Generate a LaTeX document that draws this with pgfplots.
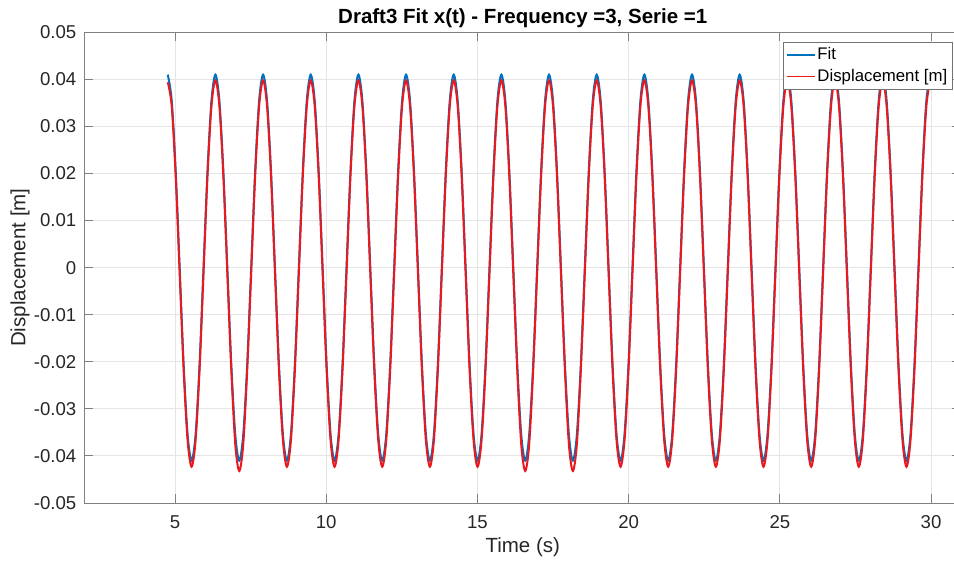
\documentclass[border=0pt]{standalone}
\usepackage{fontspec}
\setmainfont{Liberation Sans}
\usepackage{pgfplots}
\usepackage{pgfplotstable}
\pgfplotsset{compat=1.18}
\definecolor{mblue}{rgb}{0,0.447,0.741}
\definecolor{mred}{RGB}{235,25,30}
\definecolor{axgray}{RGB}{128,128,128}
\definecolor{txt}{RGB}{38,38,38}
\pgfplotstableread{
t fit disp
4.760 0.0410 0.0394
4.891 0.0355 0.0343
5.023 0.0205 0.0193
5.154 0.0000 -0.0013
5.285 -0.0205 -0.0218
5.417 -0.0355 -0.0368
5.548 -0.0410 -0.0423
5.679 -0.0355 -0.0368
5.811 -0.0205 -0.0218
5.942 0.0000 -0.0013
6.073 0.0205 0.0193
6.205 0.0355 0.0343
6.336 0.0410 0.0398
6.467 0.0355 0.0343
6.599 0.0205 0.0193
6.730 0.0000 -0.0013
6.861 -0.0205 -0.0218
6.993 -0.0355 -0.0376
7.124 -0.0410 -0.0432
7.255 -0.0355 -0.0376
7.387 -0.0205 -0.0218
7.518 0.0000 -0.0013
7.649 0.0205 0.0193
7.781 0.0355 0.0343
7.912 0.0410 0.0398
8.043 0.0355 0.0343
8.175 0.0205 0.0193
8.306 0.0000 -0.0013
8.437 -0.0205 -0.0218
8.569 -0.0355 -0.0368
8.700 -0.0410 -0.0423
8.831 -0.0355 -0.0368
8.963 -0.0205 -0.0218
9.094 0.0000 -0.0013
9.225 0.0205 0.0193
9.357 0.0355 0.0343
9.488 0.0410 0.0398
9.619 0.0355 0.0343
9.751 0.0205 0.0193
9.882 0.0000 -0.0013
10.013 -0.0205 -0.0218
10.145 -0.0355 -0.0368
10.276 -0.0410 -0.0423
10.407 -0.0355 -0.0368
10.539 -0.0205 -0.0218
10.670 0.0000 -0.0013
10.801 0.0205 0.0193
10.933 0.0355 0.0343
11.064 0.0410 0.0398
11.195 0.0355 0.0343
11.327 0.0205 0.0193
11.458 0.0000 -0.0013
11.589 -0.0205 -0.0218
11.721 -0.0355 -0.0368
11.852 -0.0410 -0.0423
11.983 -0.0355 -0.0368
12.115 -0.0205 -0.0218
12.246 0.0000 -0.0013
12.377 0.0205 0.0193
12.509 0.0355 0.0343
12.640 0.0410 0.0398
12.771 0.0355 0.0343
12.903 0.0205 0.0193
13.034 0.0000 -0.0013
13.165 -0.0205 -0.0218
13.297 -0.0355 -0.0368
13.428 -0.0410 -0.0423
13.559 -0.0355 -0.0368
13.691 -0.0205 -0.0218
13.822 0.0000 -0.0013
13.953 0.0205 0.0193
14.085 0.0355 0.0343
14.216 0.0410 0.0398
14.347 0.0355 0.0343
14.479 0.0205 0.0193
14.610 0.0000 -0.0013
14.741 -0.0205 -0.0218
14.873 -0.0355 -0.0368
15.004 -0.0410 -0.0423
15.135 -0.0355 -0.0368
15.267 -0.0205 -0.0218
15.398 0.0000 -0.0013
15.529 0.0205 0.0193
15.661 0.0355 0.0343
15.792 0.0410 0.0398
15.923 0.0355 0.0343
16.055 0.0205 0.0193
16.186 0.0000 -0.0013
16.317 -0.0205 -0.0218
16.449 -0.0355 -0.0376
16.580 -0.0410 -0.0432
16.711 -0.0355 -0.0376
16.843 -0.0205 -0.0218
16.974 0.0000 -0.0013
17.105 0.0205 0.0193
17.237 0.0355 0.0343
17.368 0.0410 0.0398
17.499 0.0355 0.0343
17.631 0.0205 0.0193
17.762 0.0000 -0.0013
17.893 -0.0205 -0.0218
18.025 -0.0355 -0.0376
18.156 -0.0410 -0.0432
18.287 -0.0355 -0.0376
18.419 -0.0205 -0.0218
18.550 0.0000 -0.0013
18.681 0.0205 0.0193
18.813 0.0355 0.0343
18.944 0.0410 0.0398
19.075 0.0355 0.0343
19.207 0.0205 0.0193
19.338 0.0000 -0.0013
19.469 -0.0205 -0.0218
19.601 -0.0355 -0.0368
19.732 -0.0410 -0.0423
19.863 -0.0355 -0.0368
19.995 -0.0205 -0.0218
20.126 0.0000 -0.0013
20.257 0.0205 0.0193
20.389 0.0355 0.0343
20.520 0.0410 0.0398
20.651 0.0355 0.0343
20.783 0.0205 0.0193
20.914 0.0000 -0.0013
21.045 -0.0205 -0.0218
21.177 -0.0355 -0.0368
21.308 -0.0410 -0.0423
21.439 -0.0355 -0.0368
21.571 -0.0205 -0.0218
21.702 0.0000 -0.0013
21.833 0.0205 0.0193
21.965 0.0355 0.0343
22.096 0.0410 0.0398
22.227 0.0355 0.0343
22.359 0.0205 0.0193
22.490 0.0000 -0.0013
22.621 -0.0205 -0.0218
22.753 -0.0355 -0.0368
22.884 -0.0410 -0.0423
23.015 -0.0355 -0.0368
23.147 -0.0205 -0.0218
23.278 0.0000 -0.0013
23.409 0.0205 0.0193
23.541 0.0355 0.0343
23.672 0.0410 0.0398
23.803 0.0355 0.0343
23.935 0.0205 0.0193
24.066 0.0000 -0.0013
24.197 -0.0205 -0.0218
24.329 -0.0355 -0.0368
24.460 -0.0410 -0.0423
24.591 -0.0355 -0.0368
24.723 -0.0205 -0.0218
24.854 0.0000 -0.0013
24.985 0.0205 0.0193
25.117 0.0355 0.0343
25.248 0.0410 0.0398
25.379 0.0355 0.0343
25.511 0.0205 0.0193
25.642 0.0000 -0.0013
25.773 -0.0205 -0.0218
25.905 -0.0355 -0.0368
26.036 -0.0410 -0.0423
26.167 -0.0355 -0.0368
26.299 -0.0205 -0.0218
26.430 0.0000 -0.0013
26.561 0.0205 0.0193
26.693 0.0355 0.0343
26.824 0.0410 0.0398
26.955 0.0355 0.0343
27.087 0.0205 0.0193
27.218 0.0000 -0.0013
27.349 -0.0205 -0.0218
27.481 -0.0355 -0.0368
27.612 -0.0410 -0.0423
27.743 -0.0355 -0.0368
27.875 -0.0205 -0.0218
28.006 0.0000 -0.0013
28.137 0.0205 0.0193
28.269 0.0355 0.0343
28.400 0.0410 0.0398
28.531 0.0355 0.0343
28.663 0.0205 0.0193
28.794 0.0000 -0.0013
28.925 -0.0205 -0.0218
29.057 -0.0355 -0.0368
29.188 -0.0410 -0.0423
29.319 -0.0355 -0.0368
29.451 -0.0205 -0.0218
29.582 0.0000 -0.0013
29.713 0.0205 0.0193
29.845 0.0355 0.0343
29.976 0.0410 0.0398
}\datatable
\begin{document}
\begin{tikzpicture}
\useasboundingbox (-42.15pt,-30pt) rectangle (434.85pt,251.5pt);
\begin{axis}[
  at={(0pt,0pt)}, anchor=south west,
  scale only axis, width=438.5pt, height=235.35pt,
  xmin=2, xmax=31, ymin=-0.05, ymax=0.05,
  scaled x ticks=false, scaled y ticks=false,
  xtick={5,10,15,20,25,30},
  xticklabels={5,10,15,20,25,30},
  ytick={-0.05,-0.04,-0.03,-0.02,-0.01,0,0.01,0.02,0.03,0.04,0.05},
  yticklabels={-0.05,-0.04,-0.03,-0.02,-0.01,0,0.01,0.02,0.03,0.04,0.05},
  tick align=inside, major tick length=4.4pt,
  grid=major, major grid style={black!10, line width=0.5pt},
  axis line style={axgray, line width=0.5pt},
  tick style={axgray, line width=0.5pt},
  ticklabel style={font=\fontsize{9.3}{11}\selectfont, text=txt},
  xticklabel style={anchor=base, yshift=-12.65pt, inner sep=0pt},
  yticklabel style={anchor=east, xshift=-3.8pt, inner sep=0pt},
  xlabel={Time (s)},
  ylabel={Displacement [m]},
  xlabel style={at={(axis description cs:0.5,-0.1062)}, anchor=base, inner sep=0pt, font=\fontsize{10.25}{12}\selectfont, text=txt},
  ylabel style={at={(axis description cs:-0.0671,0.5)}, anchor=base, inner sep=0pt, font=\fontsize{10.25}{12}\selectfont, text=txt},
  title={Draft3 Fit x(t) - Frequency =3, Serie =1},
  every axis title shift=0pt,
  title style={at={(axis description cs:0.5,1.0185)}, anchor=base, inner sep=0pt, font=\bfseries\fontsize{10.25}{12}\selectfont, text=black},
  legend style={at={(axis description cs:0.9902,0.980)}, anchor=north east, draw=black!55, line width=0.5pt, fill=white, font=\fontsize{8.4}{10}\selectfont, text=black, inner xsep=1.5pt, inner ysep=1pt, row sep=0pt, nodes={inner xsep=1pt, inner ysep=1.6pt}},
  legend cell align=left,
  legend image code/.code={\draw[#1, line width=0.7pt] (0pt,0pt) -- (14pt,0pt);},
]
\addplot[mblue, line width=1.0pt, smooth] table[x=t, y=fit] {\datatable};
\addlegendentry{Fit}
\addplot[mred, line width=1.0pt, smooth] table[x=t, y=disp] {\datatable};
\addlegendentry{Displacement [m]}
\end{axis}
\end{tikzpicture}
\end{document}
